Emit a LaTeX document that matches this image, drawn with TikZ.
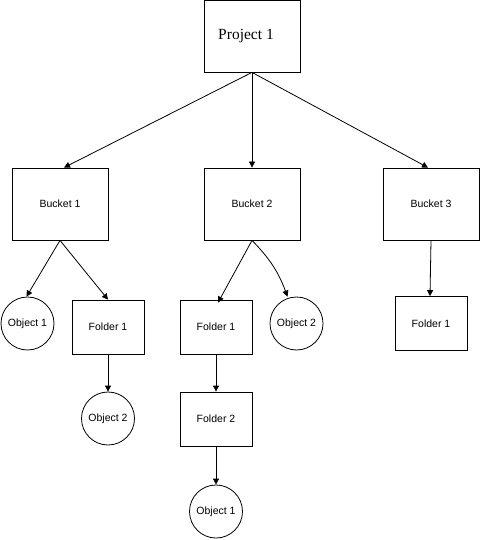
\documentclass[tikz,border=0pt]{standalone}
\usepackage{fontspec}
\setmainfont{Liberation Serif}
\setsansfont{Liberation Sans}
\usetikzlibrary{arrows.meta}
\begin{document}
\begin{tikzpicture}[x=1pt,y=-1pt,
  box/.style={draw,line width=0.8pt,inner sep=0pt,font=\sffamily\fontsize{10.5}{12}\selectfont},
  bigbox/.style={box,minimum width=96pt,minimum height=72pt},
  smallbox/.style={box,minimum width=72pt,minimum height=54pt},
  obj/.style={draw,circle,line width=0.8pt,inner sep=0pt,minimum size=53pt,font=\sffamily\fontsize{10.5}{12}\selectfont},
  arr/.style={-{Triangle[length=6pt,width=6pt]},line width=0.8pt}]
\useasboundingbox (0,0) rectangle (480,540);
\node[bigbox,font=\rmfamily\fontsize{15.5}{18}\selectfont] (p) at (252,36) {\hspace*{-12pt}Project 1};
\node[bigbox] (b1) at (60,204) {Bucket 1};
\node[bigbox] (b2) at (252,204) {Bucket 2};
\node[bigbox] (b3) at (431,204) {Bucket 3};
\node[obj] (o1) at (27.5,323.5) {Object 1};
\node[smallbox] (f1) at (108,327) {Folder 1};
\node[obj] (o2) at (108,418.5) {Object 2};
\node[smallbox] (f1m) at (216,327) {Folder 1};
\node[obj] (o2m) at (296.5,323.5) {Object 2};
\node[smallbox] (f2) at (216,419) {Folder 2};
\node[obj] (o1b) at (216,511.5) {Object 1};
\node[smallbox] (f1r) at (431,323.5) {Folder 1};
\coordinate (pb) at (p.south);
\draw[arr] (pb) -- ([xshift=4pt]b1.north);
\draw[arr] (pb) -- (b2.north);
\draw[arr] (pb) -- ([xshift=-3pt]b3.north);
\draw[arr] (b1.south) -- ([xshift=-1pt]o1.north);
\draw[arr] (b1.south) -- (f1.north);
\draw[arr] (b2.south) -- ([xshift=2pt,yshift=-3pt]f1m.north);
\draw[arr] (b2.south) to[bend left=12] ([xshift=-9pt]o2m.north);
\draw[arr] (b3.south) -- ([xshift=-1pt]f1r.north);
\draw[arr] (f1.south) -- (o2.north);
\draw[arr] (f1m.south) -- (f2.north);
\draw[arr] (f2.south) -- (o1b.north);
\end{tikzpicture}
\end{document}
